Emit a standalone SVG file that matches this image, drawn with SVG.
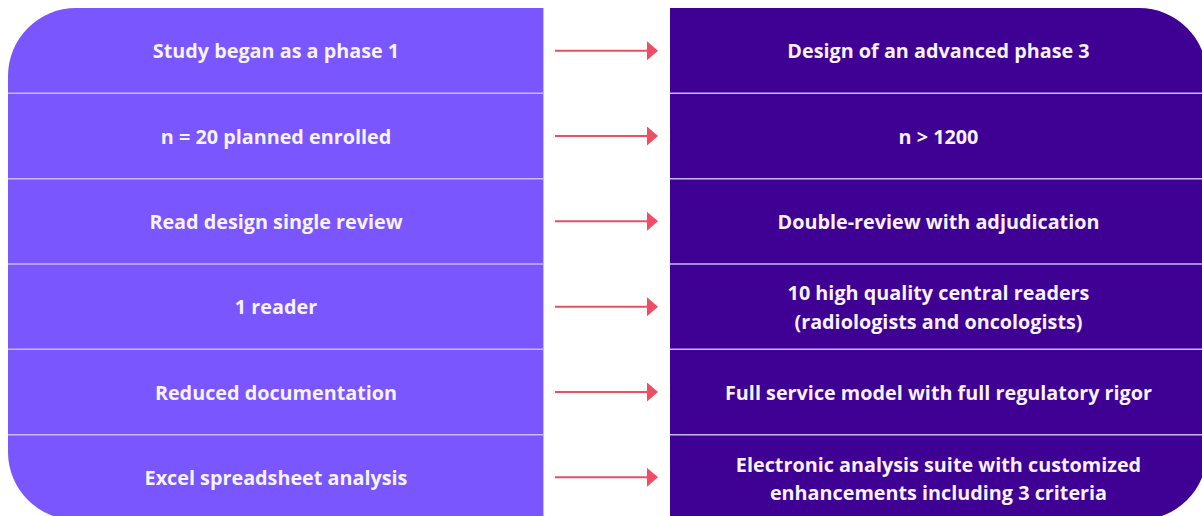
<svg xmlns="http://www.w3.org/2000/svg" width="1202" height="516" viewBox="0 0 1202 516">
<style>
.lp{fill:#7956fe}
.rp{fill:#3f0094}
.div{stroke:#c9b8ff;stroke-width:1.5}
.t{font-family:"Open Sans","Liberation Sans",sans-serif;font-weight:700;font-size:19.8px;fill:#f6f3ff;text-anchor:middle}
.arr{stroke:#f04d63;stroke-width:2;fill:none}
</style>
<defs>
<marker id="ah" markerUnits="userSpaceOnUse" markerWidth="11" markerHeight="19" refX="0" refY="9.5" orient="auto">
<path d="M0,0 L11,9.5 L0,19 Z" fill="#f04d63"/>
</marker>
</defs>
<rect width="1202" height="516" fill="#ffffff"/>
<g id="left-panel">
<path class="lp" d="M76,8 L544,8 L544,520 L76,520 A68,68 0 0 1 8,452 L8,76 A68,68 0 0 1 76,8 Z"/>
<line x1="543.5" y1="8" x2="543.5" y2="520" stroke="#c9b8ff" stroke-width="1"/>
</g>
<g id="right-panel">
<path class="rp" d="M670,8 L1139,8 A68,68 0 0 1 1207,76 L1207,452 A68,68 0 0 1 1139,520 L670,520 Z"/>
</g>
<g id="dividers">
<line class="div" x1="8" y1="93.3" x2="544" y2="93.3"/>
<line class="div" x1="8" y1="178.7" x2="544" y2="178.7"/>
<line class="div" x1="8" y1="264" x2="544" y2="264"/>
<line class="div" x1="8" y1="349.3" x2="544" y2="349.3"/>
<line class="div" x1="8" y1="434.7" x2="544" y2="434.7"/>
<line class="div" x1="670" y1="93.3" x2="1207" y2="93.3"/>
<line class="div" x1="670" y1="178.7" x2="1207" y2="178.7"/>
<line class="div" x1="670" y1="264" x2="1207" y2="264"/>
<line class="div" x1="670" y1="349.3" x2="1207" y2="349.3"/>
<line class="div" x1="670" y1="434.7" x2="1207" y2="434.7"/>
</g>
<g id="connectors">
<line class="arr" x1="555" y1="50.7" x2="647" y2="50.7" marker-end="url(#ah)"/>
<line class="arr" x1="555" y1="136" x2="647" y2="136" marker-end="url(#ah)"/>
<line class="arr" x1="555" y1="221.3" x2="647" y2="221.3" marker-end="url(#ah)"/>
<line class="arr" x1="555" y1="306.7" x2="647" y2="306.7" marker-end="url(#ah)"/>
<line class="arr" x1="555" y1="392" x2="647" y2="392" marker-end="url(#ah)"/>
<line class="arr" x1="555" y1="477.3" x2="647" y2="477.3" marker-end="url(#ah)"/>
</g>
<g id="l1"><text class="t" x="276" y="58.3">Study began as a phase 1</text></g>
<g id="l2"><text class="t" x="276" y="143.6">n = 20 planned enrolled</text></g>
<g id="l3"><text class="t" x="276" y="229">Read design single review</text></g>
<g id="l4"><text class="t" x="276" y="314.3">1 reader</text></g>
<g id="l5"><text class="t" x="276" y="399.6">Reduced documentation</text></g>
<g id="l6"><text class="t" x="276" y="485">Excel spreadsheet analysis</text></g>
<g id="r1"><text class="t" x="938.5" y="58.3">Design of an advanced phase 3</text></g>
<g id="r2"><text class="t" x="938.5" y="143.6">n &gt; 1200</text></g>
<g id="r3"><text class="t" x="938.5" y="229">Double-review with adjudication</text></g>
<g id="r4"><text class="t" x="938.5" y="300">10 high quality central readers</text><text class="t" x="938.5" y="328.5">(radiologists and oncologists)</text></g>
<g id="r5"><text class="t" x="938.5" y="399.6">Full service model with full regulatory rigor</text></g>
<g id="r6"><text class="t" x="938.5" y="471.5">Electronic analysis suite with customized</text><text class="t" x="938.5" y="500">enhancements including 3 criteria</text></g>
</svg>
